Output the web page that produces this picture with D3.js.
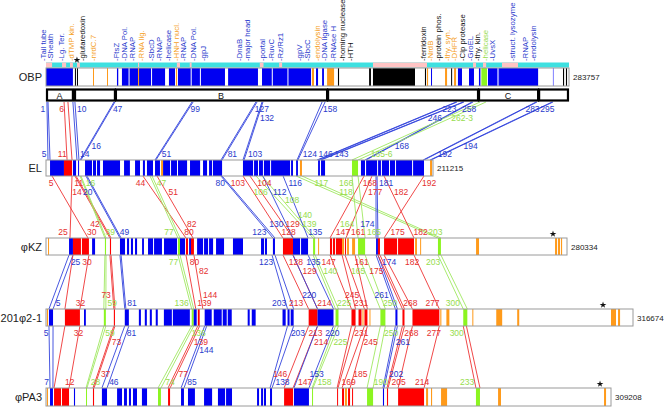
<!DOCTYPE html>
<html><head><meta charset="utf-8">
<script src="https://cdn.jsdelivr.net/npm/d3@7"></script>
<style>body{margin:0;background:#fff}svg{display:block;font-family:"Liberation Sans",Arial,sans-serif}</style>
</head><body><svg id="c" width="664" height="407"></svg>
<script>
// ---------- DATA (positions in kb along each genome) ----------
const genomeNames = ["OBP","EL","φKZ","201φ2-1","φPA3"];
const genomeLengths = [283757,211215,280334,316674,309208];

const obpBlocks = [[0,14.6,"b"],[15.7,16.2,"k"],[16.8,17.3,"k"],[25.5,26,"o"],[33.1,33.6,"o"],[38.5,39.2,"b"],
 [41.2,64.6,"b"],[49.9,50.5,"o"],[66.7,70,"b"],[70.5,71.1,"o"],[71.6,97.1,"b"],[98.8,115,"b"],[117.2,143.8,"b"],
 [144.3,145.4,"o"],[146.5,147.6,"b"],[149.8,150.8,"b"],[152.5,156.3,"o"],[158.4,159,"k"],[175.3,176.3,"k"],
 [177.4,200.2,"k"],[205.6,206.2,"k"],[206.7,207.3,"o"],[208.9,209.4,"b"],[216.5,217.6,"o"],[219.8,220.3,"k"],
 [221.4,222.5,"o"],[223.5,225.7,"b"],[229.5,232.2,"b"],[234.9,235.7,"b"],[236.2,239.3,"g"],[239.8,244.7,"b"],
 [244.7,245.8,"l"],[245.8,267,"b"],[275,275.6,"l"],[280.5,281.1,"k"],[282.1,282.7,"k"],
 [44.8,45.2,"w"],[57,57.4,"w"],[78.5,78.9,"w"],[83.5,83.9,"w"],[122.5,122.9,"w"],[131,131.4,"w"]];
const obpStripPink = [[0,3.3],[8.7,10.9],[13,14.6],[16.8,18.4],[49.9,50.5],[71,72.7],[78,79],[116,118],
 [126.5,128.1],[177.4,206.7],[231.7,233.3],[237.1,238.8],[247.4,256.1]];
const regionBounds = [[0,14.6],[15.2,37.4],[37.4,152.5],[152.5,234.4],[234.4,267],[267,283.2]];
const regionLetters = ["A","","B","","C",""];

const elBlocks = [[2.2,9.8,"b"],[9.8,14.2,"r"],[14.7,16.4,"b"],[17.5,18,"b"],[21.3,29.5,"b"],[31.1,40.4,"b"],
 [42.6,45.8,"b"],[48.6,51.3,"b"],[52.9,54,"b"],[55.1,58.4,"b"],[59.5,62.2,"b"],[62.8,63.9,"o"],[63.9,77,"b"],
 [78.6,84.1,"b"],[85.7,87.9,"b"],[89,90.6,"b"],[91.1,96.1,"b"],[107.5,134.8,"b"],[136.5,137.5,"b"],[138.6,139.7,"o"],
 [148.5,149.5,"b"],[150.1,152.3,"b"],[167,170.3,"g"],[171.9,174.1,"b"],[174.7,206.3,"b"],[209.6,210.7,"o"],
 [25.1,25.6,"w"],[27.3,27.8,"w"],[67.7,68.2,"w"],[71.5,72,"w"],[113,113.5,"w"],[115.7,116.2,"w"],[118.4,118.9,"w"],
 [122.3,122.8,"w"],[133.2,133.7,"w"],[180.7,181.2,"w"],[182.8,183.3,"w"],[187.2,187.7,"w"],[190.5,191,"w"],[199.8,200.3,"w"]];

const kzBlocks = [[1.1,1.6,"o"],[12.4,14.5,"b"],[14.5,23.1,"r"],[18.8,19.2,"w"],[24.8,26.4,"b"],[31.7,32.3,"g"],
 [34.4,35,"r"],[39.8,42.5,"b"],[43.6,44.7,"b"],[45.7,46.8,"b"],[47.9,49,"b"],[51.7,52.7,"b"],[54.9,62.4,"b"],
 [57.6,58,"w"],[63.5,70.5,"b"],[71,72.1,"g"],[72.1,74.8,"b"],[75.3,76.4,"r"],[77,78,"b"],[78,79.6,"r"],
 [81.3,89.9,"b"],[84.5,84.9,"w"],[87.2,87.6,"w"],[91.5,95.8,"b"],[100.6,106,"b"],[115.7,117.3,"b"],[117.8,118.9,"b"],
 [122.1,123.2,"b"],[127.5,132.9,"r"],[132.9,141,"b"],[136.7,137.1,"w"],[143.7,144.8,"g"],[146.4,146.9,"o"],
 [152.8,153.9,"r"],[154.4,155.5,"r"],[156,159.3,"r"],[159.3,160.4,"o"],[160.9,161.4,"r"],[162,163,"o"],
 [164.7,166.3,"o"],[167.9,171.7,"g"],[177.6,178.6,"b"],[178.6,179.7,"r"],[181.9,198,"r"],[188.9,189.3,"w"],
 [198.6,199.6,"o"],[201.3,201.8,"o"],[210.9,212.5,"g"],[231.4,233,"o"],[273.9,275,"o"],[275.5,276.6,"o"],[277.1,277.7,"o"]];

const p201Blocks = [[0.5,1.1,"o"],[1.6,3.8,"b"],[10.2,18.3,"r"],[20.5,21.5,"b"],[31.2,32.3,"g"],[36.6,37.2,"r"],
 [42.5,44.7,"b"],[50.1,51.2,"b"],[53.3,54.4,"b"],[56,57.1,"b"],[59.2,60.3,"b"],[63.6,77.6,"b"],[67.9,68.3,"w"],
 [78.6,79.7,"g"],[79.7,81.3,"b"],[81.9,82.9,"r"],[85.6,89.4,"b"],[90.5,100.2,"b"],[94.8,95.2,"w"],[97.5,97.9,"w"],
 [108.8,109.9,"b"],[111,113.1,"b"],[127.6,129.3,"b"],[130.3,131.4,"b"],[132,133.6,"b"],[141.7,146.5,"r"],
 [146.5,155.1,"b"],[156.2,157.8,"g"],[164.8,167,"r"],[168.6,170.2,"r"],[170.7,171.3,"o"],[171.8,173.4,"r"],
 [174.5,175,"o"],[180.4,183.1,"g"],[188.5,189.6,"b"],[192.3,193.4,"r"],[197.7,212.2,"r"],[212.7,213.3,"o"],
 [216,217.6,"o"],[225.1,227.3,"g"],[230,230.5,"o"],[242.9,246.1,"o"],[254.2,255.3,"o"],[304.8,307.5,"o"],[308.6,309.7,"o"]];

const pa3Blocks = [[0.5,1.1,"o"],[2.2,3.8,"b"],[4.4,12.6,"r"],[8.2,8.6,"w"],[15.3,15.9,"b"],[21.9,22.4,"g"],
 [25.7,26.3,"r"],[30.6,33.4,"b"],[38.9,41.6,"b"],[42.7,44.3,"b"],[45.4,46.5,"b"],[47.6,49.8,"b"],[52.5,55.3,"b"],
 [61.3,62.9,"g"],[66.8,67.9,"r"],[73.9,75.5,"b"],[77.7,81.5,"b"],[86.5,90.9,"b"],[94.1,101.8,"b"],[98,98.4,"w"],
 [115.5,116.6,"b"],[117.7,118.8,"b"],[119.3,120.4,"b"],[122.6,123.7,"b"],[130.3,135.2,"r"],[135.7,143.9,"b"],
 [145.6,146.1,"g"],[159.3,159.8,"r"],[162,163.1,"r"],[163.6,164.7,"o"],[165.3,166.4,"r"],[167.5,168,"r"],
 [175.7,179,"g"],[184.4,185,"b"],[186.6,187.2,"r"],[192.7,206.9,"r"],[208,209.1,"o"],[210.7,211.3,"o"],
 [216.2,219.5,"o"],[235.3,237.5,"g"],[247.4,249,"o"],[305.4,306.5,"o"]];

const starKb = [16.8,null,272.8,300.5,303.2];

const topLabelNames = ["Tail tube","Sheath","Lg. Ter.","dTMP kin.","glutaredoxin","nrdC.7","FtsZ","DNA Pol.","RNAP","RNA lig.","SbcD","RNAP","helicase","HNH nucl.","RNAP","DNA Pol.","gpJ","DnaB","major head","portal","RuvC","Rz/Rz1","gpV","SbcC","endolysin","DNA ligase","RNAse H","homing nuclease","HTH","ferridoxin","NrdB","protein phos.","thy. syn.","DHFR","Clp protease","GroEL","thy. kin.","helicase","UvsX","struct. lysozyme","RNAP","endolysin"];
const topLabelKb = [0,3.8,9.8,15.2,21.2,27.1,39.6,44,48.3,53.2,58.6,62.9,67.8,72.2,76,81.4,86.8,106.3,110.7,118.8,123.7,128.6,138.9,143.2,148.7,152.5,157.4,162.2,166.6,206.2,210,214.3,219.2,223,227.3,231.7,235.5,239.8,243.6,254.5,261.5,265.9];
const topLabelType = ["b","b","b","o","k","o","b","b","b","o","b","b","b","o","b","b","b","b","b","b","b","b","b","b","o","b","b","k","k","k","o","k","o","o","k","b","k","g","b","b","b","b"];

// links: [topStart, topEnd, bottomStart, bottomEnd, colour, topLabels, bottomLabels, labelColour?]
const linksObpEl = [
 [0.5,1.1,1.1,2.2,"b",["1"],["5"]],
 [9.8,11.9,11.5,14.2,"r",["6"],["11"]],
 [14.6,15.7,16.9,18,"b",["10"],["14"]],
 [36.9,37.4,18.6,19.1,"b",["47"],["16"]],
 [79.2,79.8,59.5,60,"b",["99"],["51"]],
 [113.9,114.5,95.5,96.1,"b",["127"],["81"]],
 [117.2,117.7,107.5,108.1,"b",["132"],["103"]],
 [149.8,151.4,137,137.5,"b",["158"],["124"]],
 [222.5,223,147.9,148.5,"b",["223"],["143"]],
 [226.3,226.8,149.5,150.1,"b",["246"],["146"]],
 [231.1,231.7,174.1,174.7,"b",["258"],["168"]],
 [235.5,238.7,167,170.3,"g",["262-3"],["165-6"]],
 [265.9,266.4,205.8,206.3,"b",["283"],["192"]],
 [274.6,275.1,209.6,210.1,"b",["295"],["194"]]];
const linksElKz = [
 [3.3,14.2,22.6,12.9,"r",["5","11"],["30","25"]],
 [15.8,16.4,34.4,35,"r",["14"],["42"]],
 [18.6,19.1,31.7,32.3,"g",["16"],["39"]],
 [21.8,22.4,39.8,40.4,"b",["20"],["49"]],
 [52.9,60.6,75.3,79.1,"r",["44","51"],["80","82"]],
 [56.8,57.9,71,72.1,"g",["47"],["77"]],
 [95.5,96.1,122.1,123.2,"b",["80"],["123"]],
 [107.5,111.3,127.5,132.9,"r",["103","104"],["128","129"]],
 [114.6,117.9,143.7,144.8,"g",["106","108"],["139","140"]],
 [118.4,129.4,132.9,141,"b",["112","116"],["130","135"]],
 [136.5,139.7,210.9,212.5,"g",["117","118"],["203"]],
 [173.6,177.9,152.8,161.4,"r",["168","177"],["147","161"]],
 [167,170.3,167.9,171.7,"g",["166"],["164","165"]],
 [180.1,180.7,177.6,178.6,"b",["181"],["174"]],
 [184.5,206.3,198,181.9,"r",["182","192"],["182","175"]]];
const linksKz201 = [
 [12.4,14.5,1.6,3.8,"b",["25"],["5"]],
 [14.5,23.1,10.2,18.3,"r",["30"],["32"]],
 [31.7,32.3,31.2,32.3,"g",[],["59"]],
 [34.4,35,36.6,37.2,"r",[],["73"]],
 [39.8,40.4,42.5,43.1,"b",[],["81"]],
 [71,72.1,78.6,79.7,"g",["77"],["136"]],
 [75.3,79.6,80.8,84.6,"r",["80","82"],["139","144"]],
 [121.6,123.2,130.3,133.6,"b",["123"],["203"]],
 [127.5,132.9,141.7,146.5,"r",["128","129"],["213","214"]],
 [132.9,141,146.5,155.1,"b",["135"],["220"]],
 [143.7,144.8,156.2,157.8,"g",["140"],["225"]],
 [152.8,159.3,164.8,167,"r",["147"],["231"]],
 [160.9,166.3,171.8,173.4,"r",["161"],["245"]],
 [167.9,171.7,180.4,183.1,"g",["165"],["250"]],
 [177.6,178.6,188.5,189.6,"b",["174"],["261"]],
 [178.6,179.7,192.3,193.4,"r",["175"],["268"]],
 [181.9,198,197.7,212.2,"r",["182"],["277"]],
 [210.9,212.5,225.1,227.3,"g",["203"],["300"]]];
const links201Pa3 = [
 [1.6,3.8,2.2,3.8,"b",["5"],["7"]],
 [10.2,18.3,4.4,12.6,"r",["32"],["12"]],
 [31.2,32.3,21.9,22.4,"g",["59"],["28"]],
 [36.6,37.2,25.7,26.3,"r",["73"],["37"]],
 [42.5,44.7,30.6,33.4,"b",["81"],["46"]],
 [78.6,79.7,61.3,62.9,"g",["136"],["74"]],
 [81.9,82.9,66.8,67.9,"r",["139"],["77"]],
 [85.6,86.7,73.9,75.5,"b",["144"],["85"]],
 [130.3,133.6,122.6,123.7,"b",["203"],["138"]],
 [141.7,146.5,130.3,135.2,"r",["213","214"],["146","147"]],
 [146.5,155.1,135.7,143.9,"b",["220"],["153"]],
 [156.2,157.8,145.6,146.1,"g",["225"],["158"]],
 [164.8,167,159.3,159.8,"r",["231"],["169"]],
 [171.8,173.4,162,166.4,"r",["245"],["185"]],
 [180.4,183.1,175.7,179,"g",["250"],["190"]],
 [188.5,189.6,184.4,185,"b",["261"],["202"]],
 [192.3,193.4,186.6,187.2,"r",["268"],["205"]],
 [197.7,212.2,192.7,206.9,"r",["277"],["214"]],
 [225.1,226.8,235.3,237.5,"r",["300"],["233"],"g"]];

// ---------- LAYOUT ----------
const svg = d3.select("#c");
const barEnd = [569,433,567,633,611];
const barTop = [68,160,238,309,388];
const barH = [18,16,17,17,18];
const xs = genomeLengths.map((L,i)=>d3.scaleLinear().domain([0,L/1000]).range([46,barEnd[i]]));
const fillOf = {b:"#0000f2",r:"#ff0000",g:"#8cf520",o:"#ff9a1a",k:"#000",l:"#8c8cff",w:"#fff"};
const lineOf = {b:"#3344dd",r:"#ee3333",g:"#9fe860"};
const textOf = {b:"#2a3acc",r:"#e53030",g:"#96dc4c",o:"#f5a023",k:"#111"};
const FS = 8.5, CW = 4.75;

// links
const linkSets = [
 {data:linksObpEl, top:0, yTop:102, yBot:barTop[1]},
 {data:linksElKz, top:1, yTop:barTop[1]+barH[1], yBot:barTop[2]},
 {data:linksKz201, top:2, yTop:barTop[2]+barH[2], yBot:barTop[3]},
 {data:links201Pa3, top:3, yTop:barTop[3]+barH[3], yBot:barTop[4]}];
const gl = svg.append("g");
const glab = svg.append("g").attr("font-size",FS+"px");
linkSets.forEach(set=>{
  const xt=xs[set.top], xb=xs[set.top+1], h=set.yBot-set.yTop;
  const specs=[];
  set.data.forEach(([a,b,c,d,t,tl,bl,lc])=>{
    const L=[[xt(a),xb(c)],[xt(b),xb(d)]];
    L.forEach(([p,q])=>gl.append("line").attr("x1",p).attr("y1",set.yTop).attr("x2",q).attr("y2",set.yBot)
      .attr("stroke",lineOf[t]).attr("stroke-width",0.9));
    const col=textOf[lc||t];
    const mid=[(L[0][0]+L[1][0])/2,(L[0][1]+L[1][1])/2];
    if(tl.length===1) specs.push({line:mid,right:mid[1]<mid[0],top:true,text:tl[0],col});
    else if(tl.length===2){
      const ord=L.map((l,i)=>({l,i})).sort((u,v)=>u.l[0]-v.l[0]);
      ord.forEach((o,k)=>specs.push({line:o.l,right:!!k,top:true,text:tl[o.i],col}));
    }
    if(bl.length===1) specs.push({line:mid,right:mid[0]>mid[1],top:false,text:bl[0],col});
    else if(bl.length===2){
      const ord=L.map((l,i)=>({l,i})).sort((u,v)=>u.l[1]-v.l[1]);
      ord.forEach((o,k)=>specs.push({line:o.l,right:!!k,top:false,text:bl[o.i],col}));
    }
  });
  const placed=[];
  const at=(l,y)=>l[0]+(l[1]-l[0])*((y-set.yTop)/h);
  ["top","bot"].forEach(side=>{
    const ss=specs.filter(s=>(side==="top")===s.top);
    ss.forEach(s=>{s.x0=at(s.line, s.top?set.yTop+7:set.yBot-6);});
    ss.sort((u,v)=>u.x0-v.x0);
    ss.forEach(s=>{
      const w=s.text.length*CW;
      let best=null;
      const maxK=Math.floor((h-12)/8.5);
      for(let k=0;k<=maxK;k++){
        for(const flip of [false,true]){
          const y=s.top? set.yTop+10+k*8.5 : set.yBot-3-k*8.5;
          const xl=at(s.line,y-3);
          const r=flip? !s.right : s.right;
          const x=r? xl+2.5 : xl-2.5;
          const bx=r? x : x-w;
          const box={x1:bx,x2:bx+w,y1:y-7,y2:y};
          const hit=placed.some(p=>!(box.x2<=p.x1||box.x1>=p.x2||box.y2<=p.y1||box.y1>=p.y2));
          if(!hit||(k===maxK&&flip)){best={x,y,box,r};break;}
        }
        if(best) break;
      }
      placed.push(best.box);
      glab.append("text").attr("x",best.x).attr("y",best.y).attr("text-anchor",best.r?"start":"end")
        .attr("fill",s.col).text(s.text);
    });
  });
});

// OBP annotation strip
const x0=xs[0];
svg.append("rect").attr("x",x0(0)).attr("y",62.5).attr("width",x0(genomeLengths[0]/1000)-x0(0)).attr("height",5).attr("fill","#3ee0e0");
svg.selectAll("rect.pk").data(obpStripPink).join("rect").attr("class","pk")
  .attr("x",d=>x0(d[0])).attr("y",62.5).attr("width",d=>Math.max(1,x0(d[1])-x0(d[0]))).attr("height",5).attr("fill","#ffc4c4");

// top gene labels
svg.append("g").selectAll("text").data(topLabelNames).join("text")
  .attr("transform",(d,i)=>`translate(${x0(topLabelKb[i])},61) rotate(-90)`)
  .attr("font-size","7.8px").attr("fill",(d,i)=>textOf[topLabelType[i]]).text(d=>"-"+d);

// genome bars
const allBlocks=[obpBlocks,elBlocks,kzBlocks,p201Blocks,pa3Blocks];
allBlocks.forEach((blocks,i)=>{
  const g=svg.append("g"), x=xs[i];
  g.append("rect").attr("x",x(0)).attr("y",barTop[i]).attr("width",x(genomeLengths[i]/1000)-x(0)).attr("height",barH[i]).attr("fill","#fff");
  const order=blocks.filter(b=>b[2]!=="w").concat(blocks.filter(b=>b[2]==="w"));
  g.selectAll("rect.gene").data(order).join("rect").attr("class","gene")
    .attr("x",d=>x(d[0])).attr("y",barTop[i]).attr("width",d=>Math.max(1,x(d[1])-x(d[0]))).attr("height",barH[i])
    .attr("fill",d=>fillOf[d[2]]);
  g.append("rect").attr("x",x(0)).attr("y",barTop[i]).attr("width",x(genomeLengths[i]/1000)-x(0)).attr("height",barH[i])
    .attr("fill","none").attr("stroke","#9a9a9a").attr("stroke-width",1);
  svg.append("text").attr("x",42).attr("y",barTop[i]+barH[i]/2+4).attr("text-anchor","end").attr("font-size","11px").attr("fill","#222").text(genomeNames[i]);
  svg.append("text").attr("x",x(genomeLengths[i]/1000)+4).attr("y",barTop[i]+barH[i]/2+3).attr("font-size","8px").attr("fill","#222").text(genomeLengths[i]);
  if(starKb[i]!==null){
    svg.append("path").attr("d",d3.symbol(d3.symbolStar,14)()).attr("transform",`translate(${x(starKb[i])},${barTop[i]-(i===0?8:4)})`).attr("fill","#111");
  }
});

// region boxes
svg.append("g").selectAll("rect").data(regionBounds).join("rect")
  .attr("x",d=>x0(d[0])+1).attr("y",89.5).attr("width",d=>x0(d[1])-x0(d[0])-1).attr("height",11)
  .attr("fill","#fff").attr("stroke","#000").attr("stroke-width",2.2);
svg.append("g").selectAll("text").data(regionBounds).join("text")
  .attr("x",d=>(x0(d[0])+x0(d[1]))/2).attr("y",98.5).attr("text-anchor","middle").attr("font-size","9px").attr("fill","#111")
  .text((d,i)=>regionLetters[i]);
</script></body></html>
